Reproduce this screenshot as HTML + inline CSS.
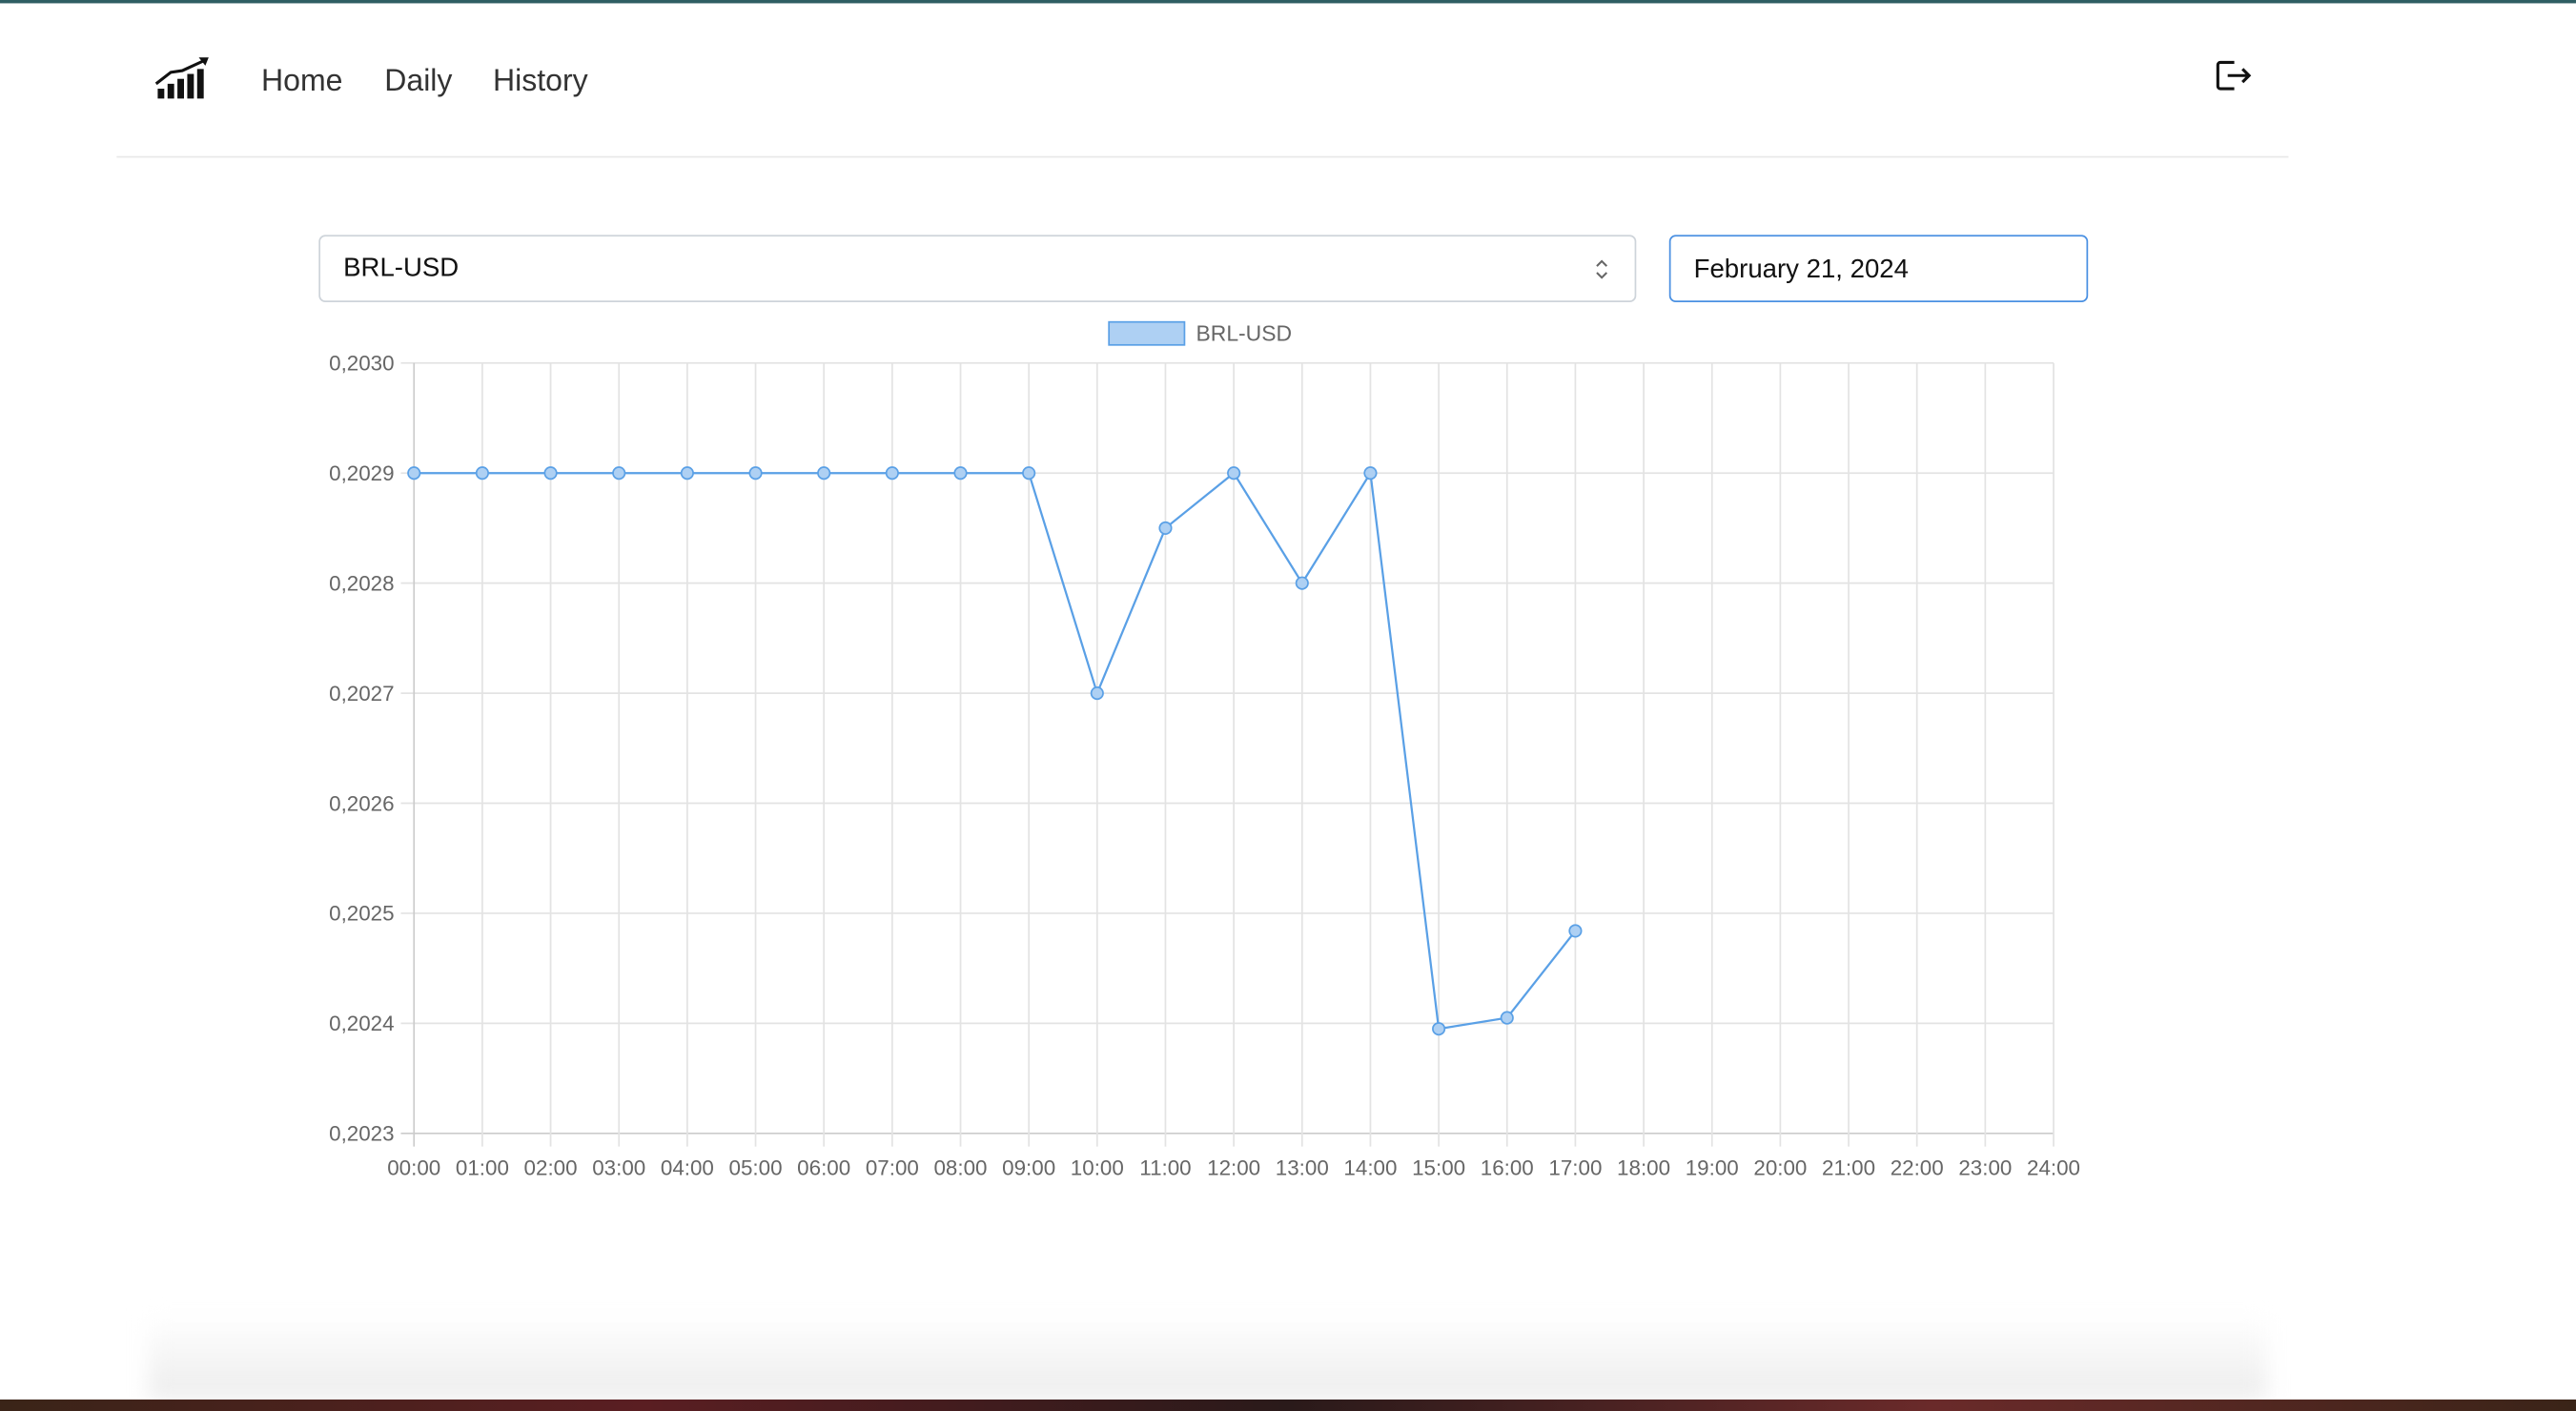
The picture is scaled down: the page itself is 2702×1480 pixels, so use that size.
<!DOCTYPE html>
<html><head><meta charset="utf-8">
<style>
html,body{margin:0;padding:0;width:2702px;height:1480px;overflow:hidden;background:#fff;}
#root{position:absolute;left:0;top:0;width:1568px;height:859px;transform-origin:0 0;transform:scale(1.72321,1.72293);font-family:"Liberation Sans",sans-serif;background:#fff;}
.abs{position:absolute;}
.nav a{position:absolute;top:38px;font-size:18.6px;color:#333;text-decoration:none;}
</style></head>
<body>
<div id="root">
  <div class="abs" style="left:0;top:0;width:1568px;height:2px;background:#2f5e63"></div>
  <svg class="abs" style="left:94px;top:34px" width="36" height="28" viewBox="0 0 36 28">
    <rect x="2" y="20" width="4" height="6" fill="#111"/><rect x="8" y="17" width="4" height="9" fill="#111"/>
    <rect x="14" y="14" width="4" height="12" fill="#111"/><rect x="20" y="11" width="4" height="15" fill="#111"/>
    <rect x="26" y="8" width="4" height="18" fill="#111"/>
    <polyline points="1,17 10,10 17,9 30,3" fill="none" stroke="#111" stroke-width="1.8"/>
    <polygon points="33,1 27,1 31,6" fill="#111"/>
  </svg>
  <div class="nav">
    <a href="#" style="left:159px">Home</a>
    <a href="#" style="left:234px">Daily</a>
    <a href="#" style="left:300px">History</a>
  </div>
  <svg class="abs" style="left:1347px;top:34px" width="24" height="24" viewBox="0 0 24 24">
    <path d="M13 4H4.5a1.5 1.5 0 0 0-1.5 1.5v13A1.5 1.5 0 0 0 4.5 20H13" fill="none" stroke="#111" stroke-width="1.8"/>
    <path d="M9 12h13M18 8l4 4-4 4" fill="none" stroke="#111" stroke-width="1.8"/>
  </svg>
  <div class="abs" style="left:71px;top:95px;width:1322px;height:1px;background:#e8e8e8"></div>

  <div class="abs" style="left:194px;top:143px;width:800px;height:39px;border:1px solid #ced4da;border-radius:4px;">
    <span class="abs" style="left:14px;top:11px;font-size:16px;color:#111">BRL-USD</span>
    <svg class="abs" style="left:775px;top:12px" width="10" height="16" viewBox="0 0 10 16"><path d="M2 6l3-3 3 3M2 10l3 3 3-3" fill="none" stroke="#666" stroke-width="1.2"/></svg>
  </div>
  <div class="abs" style="left:1016px;top:143px;width:253px;height:39px;border:1px solid #4a90e2;border-radius:4px;">
    <span class="abs" style="left:14px;top:12px;font-size:16px;color:#111">February 21, 2024</span>
  </div>

  <svg class="abs" style="left:0;top:0" width="1568" height="800" id="chart">
    <rect x="675" y="196" width="46" height="14" fill="#aed0f3" stroke="#5aa0e6" stroke-width="1"/>
    <text x="728" y="207.5" font-size="13.3" fill="#666" font-family="Liberation Sans">BRL-USD</text>
    <g id="grid"></g><g id="ylab"></g><g id="xlab"></g><g id="series"></g>
  </svg>

  <div class="abs" style="left:90px;top:800px;width:1290px;height:52px;background:linear-gradient(#fff,#ececec);filter:blur(6px)"></div>
  <div class="abs" style="left:0;top:852px;width:1568px;height:7px;background:linear-gradient(90deg,#3a2418,#5a1e22,#2a1a1a,#6a2a2a,#3a2418)"></div>
</div>
<script>
const hours = [];
for (let h = 0; h <= 24; h++) hours.push((h < 10 ? '0' : '') + h + ':00');
const yTicks = [0.2023, 0.2024, 0.2025, 0.2026, 0.2027, 0.2028, 0.2029, 0.2030];
const values = [0.2029,0.2029,0.2029,0.2029,0.2029,0.2029,0.2029,0.2029,0.2029,0.2029,0.2027,0.20285,0.2029,0.2028,0.2029,0.202395,0.202405,0.202484];

const X0 = 252, X1 = 1250, Y0 = 690, Y1 = 221, YMIN = 0.2023, YMAX = 0.2030;
function xs(i){ return X0 + (X1 - X0) * i / 24; }
function ys(v){ return Y0 - (Y0 - Y1) * (v - YMIN) / (YMAX - YMIN); }
const NS = 'http://www.w3.org/2000/svg';
function mk(tag, attrs, parent){ const e = document.createElementNS(NS, tag); for (const k in attrs) e.setAttribute(k, attrs[k]); parent.appendChild(e); return e; }
const grid = document.getElementById('grid'), ylab = document.getElementById('ylab'), xlab = document.getElementById('xlab'), series = document.getElementById('series');

yTicks.forEach(t => {
  const y = ys(t);
  const l = mk('line', {x1: X0 - 8, x2: X1, y1: y, y2: y, stroke: t === YMIN ? '#ccc' : '#e3e3e3', 'stroke-width': 1}, grid);
  
  
  const tx = mk('text', {x: 240, y: y + 4.5, 'text-anchor': 'end', 'font-size': 13, fill: '#666', 'font-family': 'Liberation Sans'}, ylab);
  tx.textContent = t.toFixed(4).replace('.', ',');
  
  
});
hours.forEach((h, i) => {
  const x = xs(i);
  const l = mk('line', {x1: x, x2: x, y1: Y1, y2: Y0 + 8, stroke: i === 0 ? '#ccc' : '#e3e3e3', 'stroke-width': 1}, grid);
  
  
  const tx = mk('text', {x: x, y: 715.5, 'text-anchor': 'middle', 'font-size': 13, fill: '#666', 'font-family': 'Liberation Sans'}, xlab);
  tx.textContent = h;
  
  
});
const pts = values.map((v, i) => xs(i) + ',' + ys(v)).join(' ');
const line = mk('polyline', {points: pts, fill: 'none', stroke: '#5aa0e6', 'stroke-width': 1.3}, series);


values.forEach((v, i) => {
  const c = mk('circle', {cx: xs(i), cy: ys(v), r: 3.6, fill: '#aed0f3', stroke: '#5aa0e6', 'stroke-width': 1}, series);
  
  
});
</script>
</body></html>
